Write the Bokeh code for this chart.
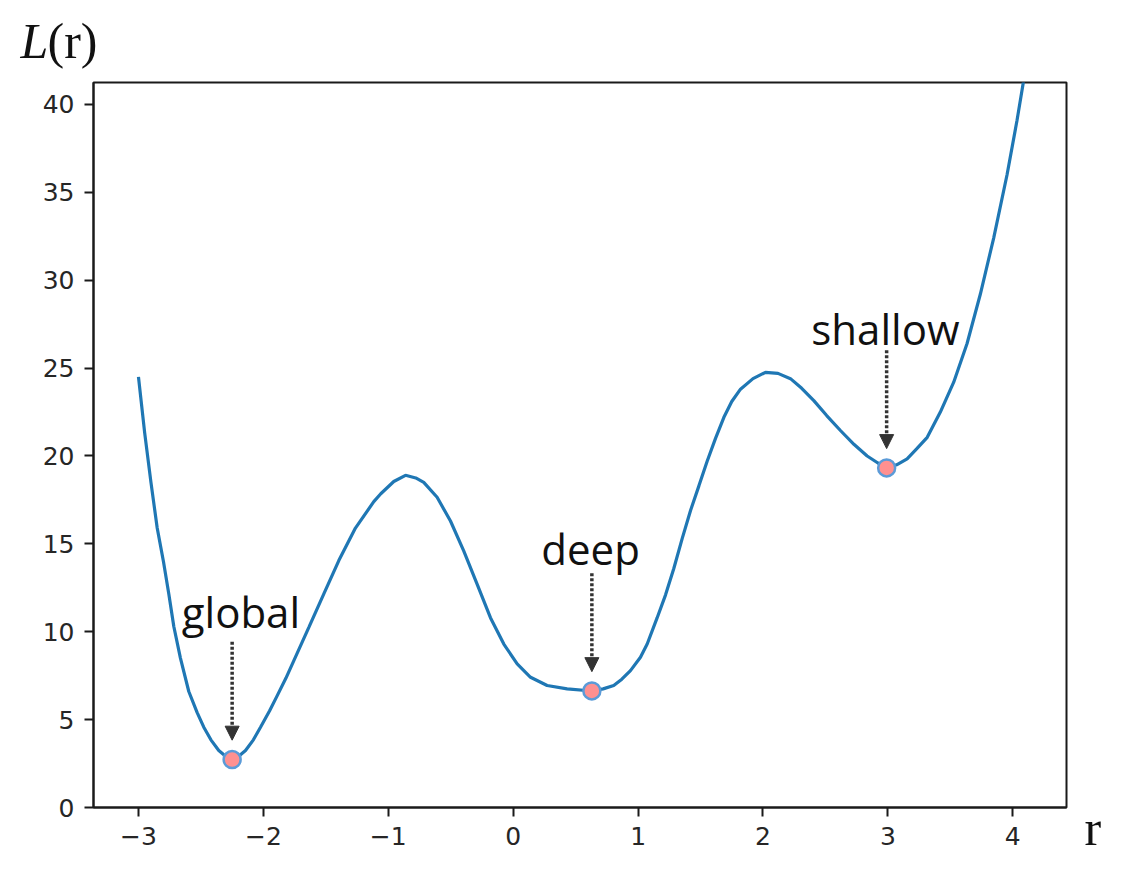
from bokeh.plotting import figure
from bokeh.layouts import column, row
from bokeh.models import Range1d, FixedTicker, Label, Arrow, NormalHead
from bokeh.embed import file_html
from bokeh.resources import INLINE

# ---- data ----
r_vals = [-3.00, -2.95, -2.90, -2.85, -2.80, -2.757, -2.717, -2.664, -2.597, -2.53, -2.477,
          -2.42, -2.357, -2.30, -2.25, -2.20, -2.143, -2.08, -2.023, -1.95, -1.89,
          -1.82, -1.756, -1.636, -1.516, -1.396, -1.263, -1.116, -1.06, -0.956, -0.862,
          -0.78, -0.716, -0.609, -0.502, -0.396, -0.288, -0.182, -0.075, 0.032, 0.139,
          0.272, 0.432, 0.63, 0.72, 0.805, 0.87, 0.939, 1.019, 1.073, 1.153,
          1.22, 1.286, 1.353, 1.42, 1.487, 1.553, 1.62, 1.687, 1.75, 1.82,
          1.92, 2.02, 2.12, 2.22, 2.31, 2.407, 2.51, 2.62, 2.73, 2.834,
          2.92, 2.994, 3.07, 3.154, 3.23, 3.315, 3.42, 3.527, 3.634, 3.74,
          3.847, 3.954, 4.034, 4.09]
loss_vals = [24.5, 21.3, 18.5, 15.9, 14.0, 12.15, 10.3, 8.5, 6.6, 5.4, 4.57,
             3.85, 3.24, 2.9, 2.73, 2.9, 3.24, 3.85, 4.57, 5.5, 6.35,
             7.35, 8.36, 10.25, 12.15, 14.05, 15.9, 17.4, 17.85, 18.55, 18.9,
             18.75, 18.5, 17.65, 16.3, 14.6, 12.7, 10.8, 9.3, 8.17, 7.41,
             6.94, 6.75, 6.63, 6.75, 6.94, 7.3, 7.79, 8.55, 9.3, 10.8,
             12.1, 13.6, 15.3, 16.9, 18.3, 19.7, 21.0, 22.2, 23.1, 23.8,
             24.4, 24.76, 24.7, 24.4, 23.85, 23.15, 22.3, 21.45, 20.65, 20.0,
             19.6, 19.32, 19.5, 19.84, 20.4, 21.06, 22.5, 24.2, 26.4, 29.2,
             32.4, 36.0, 39.1, 41.5]

min_names = ["global", "deep", "shallow"]
min_r = [-2.25, 0.63, 2.99]
min_loss = [2.73, 6.63, 19.32]

x_ticks = [-3, -2, -1, 0, 1, 2, 3, 4]
y_ticks = [0, 5, 10, 15, 20, 25, 30, 35, 40]


def blank_fig(w, h):
    f = figure(width=w, height=h, output_backend="svg", toolbar_location=None,
               x_range=Range1d(0, w), y_range=Range1d(0, h), min_border=0,
               title=None, x_axis_location=None, y_axis_location=None)
    f.grid.visible = False
    f.outline_line_color = None
    f.background_fill_color = "white"
    f.border_fill_color = "white"
    return f


# ---- top strip holding the y title ----
top = blank_fig(1120, 80)
top.add_layout(Label(x=20, y=40, text="L", text_font="Liberation Serif",
                     text_font_style="italic", text_font_size="50px",
                     text_align="left", text_baseline="alphabetic", text_color="#111111"))
top.add_layout(Label(x=47, y=40, text="(r)", text_font="Liberation Serif",
                     text_font_size="50px", text_align="left",
                     text_baseline="alphabetic", text_color="#111111"))

# ---- main figure ----
p = figure(width=1068, height=782, output_backend="svg", toolbar_location=None,
           title=None, x_range=Range1d(-3.36, 4.43), y_range=Range1d(0, 41.25),
           min_border_left=93, min_border_right=2, min_border_top=2,
           min_border_bottom=55)
p.background_fill_color = "white"
p.border_fill_color = "white"
p.xgrid.visible = False
p.ygrid.visible = False
p.outline_line_color = "#1a1a1a"
p.outline_line_width = 2
p.outline_line_alpha = 1.0

for ax in (p.xaxis[0], p.yaxis[0]):
    ax.axis_line_color = "#1a1a1a"
    ax.axis_line_width = 2
    ax.major_tick_out = 9
    ax.major_tick_in = 0
    ax.major_tick_line_width = 2
    ax.major_tick_line_color = "#1a1a1a"
    ax.minor_tick_line_color = None
    ax.major_label_text_font = "DejaVu Sans"
    ax.major_label_text_font_size = "25px"
    ax.major_label_text_color = "#262626"
    ax.major_label_standoff = 10

p.xaxis.ticker = FixedTicker(ticks=x_ticks)
p.yaxis.ticker = FixedTicker(ticks=y_ticks)
p.xaxis.major_label_overrides = {t: str(t).replace("-", "\u2212") for t in x_ticks}
p.yaxis.major_label_overrides = {t: str(t) for t in y_ticks}

# curve
p.line(r_vals, loss_vals, line_color="#1f77b4", line_width=3.2)

# arrows and labels
text_dx = [0.07, -0.01, -0.01]
text_dy = [8.4, 8.12, 7.93]
for name, rx, ly, dx, dy in zip(min_names, min_r, min_loss, text_dx, text_dy):
    p.add_layout(Arrow(end=NormalHead(size=14, fill_color="#333333",
                                      line_color="#333333", line_width=1),
                       x_start=rx, y_start=ly + 6.7, x_end=rx, y_end=ly + 1.1,
                       line_color="#333333", line_width=3.5, line_dash="3 2"))
    p.add_layout(Label(x=rx + dx, y=ly + dy, text=name, text_font="Open Sans",
                       text_font_size="42px", text_align="center",
                       text_baseline="alphabetic", text_color="#111111"))

# minima markers
p.scatter(min_r, min_loss, size=17, fill_color="#ff9090", line_color="#5b9bd8",
          line_width=2.5)

# ---- right strip holding the x title ----
side = blank_fig(52, 782)
side.add_layout(Label(x=16, y=35, text="r", text_font="Liberation Serif",
                      text_font_size="50px", text_align="left",
                      text_baseline="alphabetic", text_color="#111111"))

layout = column(top, row(p, column(side, spacing=0), spacing=0), spacing=0)
open("out.html", "w").write(file_html(layout, INLINE))
